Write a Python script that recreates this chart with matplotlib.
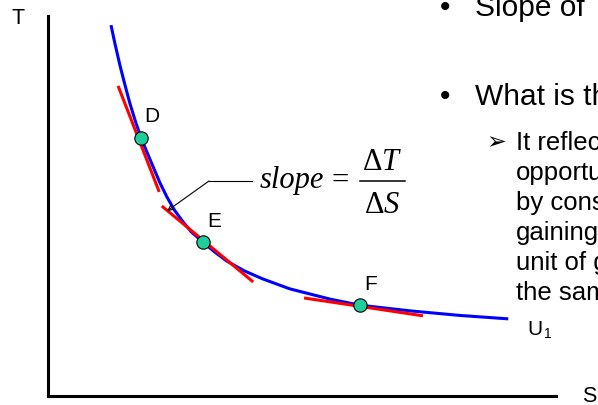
import matplotlib
matplotlib.use("Agg")
import matplotlib.pyplot as plt

plt.rcParams["font.family"] = ["Liberation Sans", "DejaVu Sans"]
plt.rcParams["mathtext.fontset"] = "custom"
plt.rcParams["mathtext.rm"] = "Liberation Serif"
plt.rcParams["mathtext.it"] = "Liberation Serif:italic"

# Indifference curve U1 in (S, T) space
curve_s = [1.24, 1.32, 1.42, 1.52, 1.61, 1.72, 1.83, 1.95, 2.07, 2.20,
           2.34, 2.49, 2.66, 2.82, 3.05, 3.28, 3.52, 3.87, 4.23, 4.76,
           5.55, 6.14, 7.13, 8.11, 9.06]
curve_t = [9.76, 9.26, 8.68, 8.16, 7.71, 7.23, 6.80, 6.41, 6.03, 5.62,
           5.24, 4.89, 4.58, 4.32, 4.05, 3.79, 3.55, 3.29, 3.08, 2.82,
           2.55, 2.39, 2.24, 2.12, 2.03]

# Bundles on the curve
point_labels = ["D", "E", "F"]
point_s = [1.83, 3.05, 6.14]
point_t = [6.80, 4.05, 2.39]

# Tangent segments through each bundle (start / end)
tangent_s0 = [1.38, 2.24, 5.04]
tangent_t0 = [8.16, 5.00, 2.58]
tangent_s1 = [2.19, 4.04, 7.38]
tangent_t1 = [5.37, 3.00, 2.11]

curve_label = "U"
curve_label_sub = "1"
x_label = "S"
y_label = "T"

bullets = ["Slope of", "What is the"]
sub_lines = ["It reflects", "opportunity", "by consuming", "gaining",
             "unit of good", "the same"]

W, H = 598, 406
fig = plt.figure(figsize=(W / 100, H / 100), dpi=100)
fig.patch.set_facecolor("white")

# Chart axes: origin at the lower-left corner of the two axis lines
ax = fig.add_axes([48 / W, (H - 397) / H, (556 - 48) / W, (397 - 17) / H])
ax.set_xlim(0, 10)
ax.set_ylim(0, 10)
ax.set_facecolor("none")
for side in ("top", "right"):
    ax.spines[side].set_visible(False)
for side in ("left", "bottom"):
    ax.spines[side].set_linewidth(2.2)
    ax.spines[side].set_color("black")
ax.set_xticks([])
ax.set_yticks([])

ax.plot(curve_s, curve_t, color="#0000FF", lw=2.2, solid_capstyle="butt",
        solid_joinstyle="round", zorder=2)
for s0, t0, s1, t1 in zip(tangent_s0, tangent_t0, tangent_s1, tangent_t1):
    ax.plot([s0, s1], [t0, t1], color="#FF0000", lw=2.2,
            solid_capstyle="butt", zorder=3)
ax.plot(point_s, point_t, ls="none", marker="o", ms=9.6,
        mfc="#1ECF9C", mec="black", mew=0.8, zorder=4)
for lab, s, t in zip(point_labels, point_s, point_t):
    ax.annotate(lab, (s, t), xytext=(11, 22), textcoords="offset pixels",
                ha="center", va="center", fontsize=15, color="black")

# Annotation layer in pixel coordinates
ov = fig.add_axes([0, 0, 1, 1])
ov.set_xlim(0, W)
ov.set_ylim(H, 0)
ov.set_axis_off()

ov.text(18.5, 18.5, y_label, ha="center", va="center", fontsize=15.5)
ov.text(582, 397, x_label, ha="left", va="center", fontsize=15.5)
ov.text(527, 335, curve_label, ha="left", va="baseline", fontsize=15)
ov.text(544, 338.5, curve_label_sub, ha="left", va="baseline", fontsize=10)

# slope = dT / dS
ov.text(260, 188, "slope", family="Liberation Serif", style="italic",
        fontsize=22, ha="left", va="baseline")
ov.text(340, 189, "=", family="Liberation Serif", fontsize=22,
        ha="center", va="baseline")
ov.plot([360, 405], [182, 182], color="black", lw=1.1)
ov.text(382.5, 170, r"$\mathrm{\Delta}T$", fontsize=22, ha="center",
        va="baseline")
ov.text(382.5, 213, r"$\mathrm{\Delta}S$", fontsize=22, ha="center",
        va="baseline")
ov.plot([252, 209], [182, 182], color="black", lw=0.8)
ov.annotate("", xy=(167, 212), xytext=(209, 182),
            arrowprops=dict(arrowstyle="->", lw=0.8, color="black",
                            shrinkA=0, shrinkB=0, mutation_scale=9))

# Bulleted text on the right
for i, line in enumerate(bullets):
    base = 16 + 89 * i
    ov.text(440, base, "\u2022", fontsize=21.5, ha="left", va="baseline")
    ov.text(475, base, line, fontsize=21.5, ha="left", va="baseline")
ov.text(496.5, 142, "\u27A2", family="DejaVu Sans", fontsize=17,
        ha="center", va="center")
for i, line in enumerate(sub_lines):
    ov.text(516, 150 + 30 * i, line, fontsize=18.5, ha="left",
            va="baseline")

fig.savefig("out.png", dpi=100)
